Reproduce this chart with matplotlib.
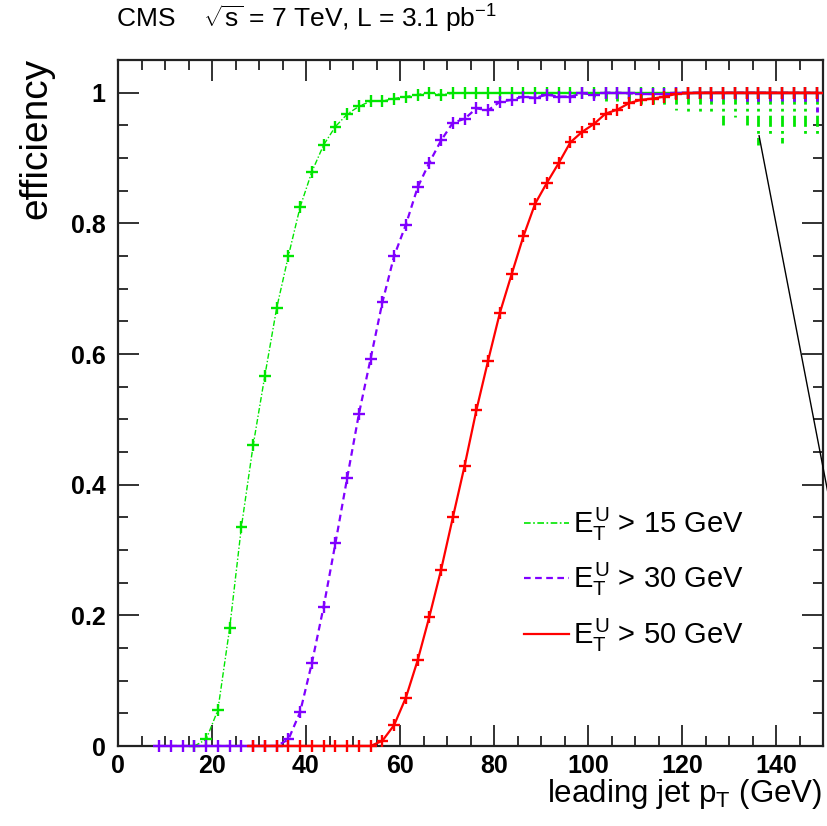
import matplotlib
matplotlib.use("Agg")
import matplotlib.pyplot as plt
from matplotlib.lines import Line2D
from matplotlib.ticker import MultipleLocator, FixedLocator
import numpy as np

plt.rcParams['font.family'] = ['Liberation Sans', 'DejaVu Sans']
plt.rcParams['mathtext.fontset'] = 'custom'
plt.rcParams['mathtext.rm'] = 'Liberation Sans'
plt.rcParams['mathtext.it'] = 'Liberation Sans'
plt.rcParams['mathtext.bf'] = 'Liberation Sans:bold'

# ---------------- data ----------------
x15 = [16.25, 18.75, 21.25, 23.75, 26.25, 28.75, 31.25, 33.75, 36.25, 38.75,
       41.25, 43.75, 46.25, 48.75, 51.25, 53.75, 56.25, 58.75, 61.25, 63.75,
       66.25, 68.75, 71.25, 73.75, 76.25, 78.75, 81.25, 83.75, 86.25, 88.75,
       91.25, 93.75, 96.25, 98.75, 101.25, 103.75, 106.25, 108.75, 111.25, 113.75,
       116.25, 118.75, 121.25, 123.75, 126.25, 128.75, 131.25, 133.75, 136.25, 138.75,
       141.25, 143.75, 146.25, 148.75]
eff15 = [0.0, 0.01, 0.055, 0.18, 0.335, 0.46, 0.567, 0.67, 0.75, 0.825,
         0.879, 0.92, 0.948, 0.967, 0.979, 0.987, 0.987, 0.991, 0.994, 0.997,
         1.0, 0.997, 0.999, 1.0, 1.0, 1.0, 1.0, 1.0, 1.0, 1.0,
         1.0, 1.0, 1.0, 1.0, 1.0, 1.0, 1.0, 1.0, 1.0, 1.0,
         1.0, 1.0, 1.0, 1.0, 1.0, 1.0, 1.0, 1.0, 1.0, 1.0,
         1.0, 1.0, 1.0, 1.0]
errlo15 = [0.0, 0.0, 0.0, 0.0, 0.0, 0.0, 0.0, 0.0, 0.0, 0.0,
           0.0, 0.0, 0.0, 0.0, 0.0, 0.0, 0.0, 0.0, 0.0, 0.0,
           0.0, 0.0, 0.0, 0.0, 0.0, 0.0, 0.0, 0.0, 0.0, 0.0,
           0.0, 0.0, 0.0, 0.0, 0.006, 0.012, 0.013, 0.016, 0.021, 0.021,
           0.021, 0.027, 0.029, 0.033, 0.034, 0.049, 0.038, 0.049, 0.080, 0.065,
           0.077, 0.054, 0.067, 0.067]

x30 = [8.75, 11.25, 13.75, 16.25, 18.75, 21.25, 23.75, 26.25, 28.75, 31.25,
       33.75, 36.25, 38.75, 41.25, 43.75, 46.25, 48.75, 51.25, 53.75, 56.25,
       58.75, 61.25, 63.75, 66.25, 68.75, 71.25, 73.75, 76.25, 78.75, 81.25,
       83.75, 86.25, 88.75, 91.25, 93.75, 96.25, 98.75, 101.25, 103.75, 106.25,
       108.75, 111.25, 113.75, 116.25, 118.75, 121.25, 123.75, 126.25, 128.75, 131.25,
       133.75, 136.25, 138.75, 141.25, 143.75, 146.25, 148.75]
eff30 = [0.0, 0.0, 0.0, 0.0, 0.0, 0.0, 0.0, 0.0, 0.0, 0.0,
         0.0, 0.01, 0.052, 0.127, 0.213, 0.31, 0.41, 0.508, 0.593, 0.679,
         0.75, 0.798, 0.855, 0.893, 0.927, 0.954, 0.96, 0.976, 0.973, 0.986,
         0.989, 0.994, 0.992, 0.997, 0.994, 0.994, 0.999, 0.997, 1.0, 1.0,
         0.999, 0.998, 0.998, 0.998, 1.0, 1.0, 1.0, 1.0, 1.0, 1.0,
         1.0, 1.0, 1.0, 1.0, 1.0, 1.0, 1.0]
errlo30 = [0.0, 0.0, 0.0, 0.0, 0.0, 0.0, 0.0, 0.0, 0.0, 0.0,
           0.0, 0.0, 0.0, 0.0, 0.0, 0.0, 0.0, 0.0, 0.0, 0.0,
           0.0, 0.0, 0.0, 0.0, 0.0, 0.0, 0.0, 0.0, 0.0, 0.0,
           0.0, 0.0, 0.0, 0.0, 0.0, 0.0, 0.0, 0.0, 0.0, 0.0,
           0.0, 0.0, 0.0, 0.0, 0.0, 0.008, 0.008, 0.012, 0.010, 0.010,
           0.015, 0.015, 0.012, 0.012, 0.018, 0.021, 0.029]

x50 = [28.75, 31.25, 33.75, 36.25, 38.75, 41.25, 43.75, 46.25, 48.75, 51.25,
       53.75, 56.25, 58.75, 61.25, 63.75, 66.25, 68.75, 71.25, 73.75, 76.25,
       78.75, 81.25, 83.75, 86.25, 88.75, 91.25, 93.75, 96.25, 98.75, 101.25,
       103.75, 106.25, 108.75, 111.25, 113.75, 116.25, 118.75, 121.25, 123.75, 126.25,
       128.75, 131.25, 133.75, 136.25, 138.75, 141.25, 143.75, 146.25, 148.75]
eff50 = [0.0, 0.0, 0.0, 0.0, 0.0, 0.0, 0.0, 0.0, 0.0, 0.0,
         0.0, 0.008, 0.032, 0.074, 0.131, 0.198, 0.27, 0.35, 0.429, 0.514,
         0.59, 0.663, 0.722, 0.78, 0.83, 0.862, 0.892, 0.924, 0.94, 0.952,
         0.968, 0.974, 0.984, 0.989, 0.991, 0.994, 0.998, 0.999, 1.0, 1.0,
         1.0, 1.0, 1.0, 1.0, 1.0, 1.0, 1.0, 1.0, 1.0]

bin_half_width = 1.25
labels = [r"$E_T^U$ > 15 GeV", r"$E_T^U$ > 30 GeV", r"$E_T^U$ > 50 GeV"]
pointer_x = [136.4, 152.0]
pointer_y = [0.934, 0.352]

# ---------------- styles ----------------
c15, c30, c50 = '#00e600', '#8000ff', '#ff0000'
ls15 = (0, (4, 1.5, 1, 1.5))
ls30 = (0, (3, 2))
ls50 = '-'

fig = plt.figure(figsize=(8.27, 8.26), dpi=100)
L, R, B, T = 118/827, 823/827, 1-746/826, 1-60/826
ax = fig.add_axes([L, B, R-L, T-B])


def draw(x, y, errlo, color, ls, lw):
    x = np.asarray(x); y = np.asarray(y)
    ax.plot(x, y, color=color, ls=ls, lw=lw, zorder=2)
    if errlo is not None:
        e = np.asarray(errlo)
        m = e > 0
        for xi, yi, ei in zip(x[m], y[m], e[m]):
            ax.plot([xi, xi], [yi, yi-ei], color=color, ls=ls, lw=2.0, zorder=2)
    ax.errorbar(x, y, xerr=bin_half_width, fmt='none', ecolor=color,
                elinewidth=1.7, capsize=0, zorder=3, clip_on=False)
    ax.plot(x, y, ls='none', marker='|', ms=9, mew=1.7, color=color,
            zorder=3, clip_on=False)


draw(x15, eff15, errlo15, c15, ls15, 1.0)
draw(x30, eff30, errlo30, c30, ls30, 1.6)
draw(x50, eff50, None, c50, ls50, 1.6)

ax.plot(pointer_x, pointer_y, color='black', lw=1.0, clip_on=False, zorder=4)

ax.set_xlim(0, 150)
ax.set_ylim(0, 1.05)
ax.xaxis.set_major_locator(FixedLocator([0, 20, 40, 60, 80, 100, 120, 140]))
ax.xaxis.set_minor_locator(MultipleLocator(5))
ax.yaxis.set_major_locator(FixedLocator([0, 0.2, 0.4, 0.6, 0.8, 1.0]))
ax.yaxis.set_minor_locator(MultipleLocator(0.05))
ax.set_xticklabels(['0', '20', '40', '60', '80', '100', '120', '140'])
ax.set_yticklabels(['0', '0.2', '0.4', '0.6', '0.8', '1'])
ax.tick_params(which='both', direction='in', top=True, right=True,
               width=1.3, colors='#222222', labelcolor='black')
ax.tick_params(which='major', length=15, labelsize=18)
ax.tick_params(axis='x', which='major', pad=5.5)
ax.tick_params(axis='y', which='major', pad=9)
ax.tick_params(which='minor', length=7.5)
for lab in ax.get_xticklabels() + ax.get_yticklabels():
    lab.set_fontweight('bold')
for s in ax.spines.values():
    s.set_linewidth(1.6)
    s.set_color('#222222')

fig.text(18/827, 1-58/826, 'efficiency', rotation=90, ha='left', va='top',
         fontsize=28)
fig.text(822/827, 1-802/826, r'leading jet p$_T$ (GeV)', ha='right',
         va='baseline', fontsize=22.5)
fig.text(116/827, 1-28/826, r'CMS    $\sqrt{s}$ = 7 TeV, L = 3.1 pb$^{-1}$',
         ha='left', va='baseline', fontsize=19)

handles = [Line2D([], [], color=c15, ls=ls15, lw=1.2),
           Line2D([], [], color=c30, ls=ls30, lw=1.6),
           Line2D([], [], color=c50, ls=ls50, lw=1.6)]
ax.legend(handles, labels, loc='upper left', bbox_to_anchor=(524/827, 1-506/826),
          bbox_transform=fig.transFigure, frameon=False, fontsize=21,
          handlelength=1.55, handletextpad=0.12, labelspacing=0.62,
          borderaxespad=0, borderpad=0)

fig.savefig('out.png', dpi=100)
